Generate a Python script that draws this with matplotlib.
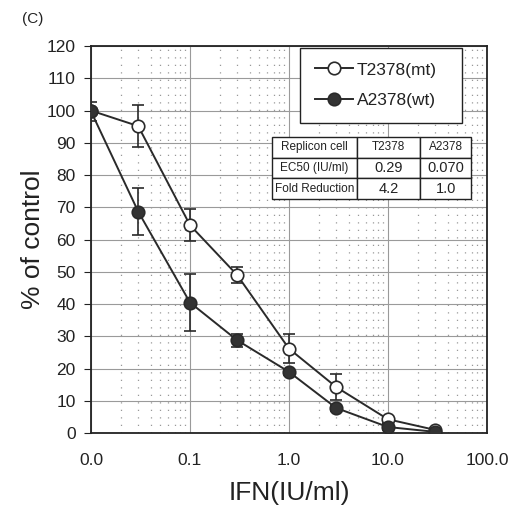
import matplotlib
matplotlib.use("Agg")
import matplotlib.pyplot as plt
from matplotlib.lines import Line2D
from matplotlib.ticker import FixedLocator, FixedFormatter, LogLocator, NullFormatter

plt.rcParams['font.family'] = ['Liberation Sans', 'DejaVu Sans']

# Data
ifn = [0.01, 0.03, 0.1, 0.3, 1.0, 3.0, 10.0, 30.0]
t2378_mean = [100.0, 95.2, 64.5, 49.0, 26.2, 14.3, 4.3, 1.0]
t2378_err = [0.0, 6.4, 5.0, 2.6, 4.5, 4.0, 1.0, 0.5]
a2378_mean = [99.8, 68.7, 40.5, 28.8, 19.0, 7.8, 1.9, 0.4]
a2378_err = [3.0, 7.4, 8.8, 2.0, 1.0, 1.0, 0.8, 0.5]

xtick_vals = [0.01, 0.1, 1, 10, 100]
xtick_labels = ['0.0', '0.1', '1.0', '10.0', '100.0']
ytick_vals = list(range(0, 121, 10))

table_rows = [['Replicon cell', 'T2378', 'A2378'],
              ['EC50 (IU/ml)', '0.29', '0.070'],
              ['Fold Reduction', '4.2', '1.0']]

fig = plt.figure(figsize=(5.11, 5.12), dpi=100)
ax = fig.add_axes([0.178, 0.154, 0.775, 0.756])

ax.set_xscale('log')
ax.set_xlim(0.01, 100)
ax.set_ylim(0, 120)

ax.xaxis.set_major_locator(FixedLocator(xtick_vals))
ax.xaxis.set_major_formatter(FixedFormatter(xtick_labels))
ax.xaxis.set_minor_locator(LogLocator(base=10, subs=range(2, 10)))
ax.xaxis.set_minor_formatter(NullFormatter())
ax.set_yticks(ytick_vals)
ax.grid(True, which='major', axis='both', color='#9a9a9a', linewidth=0.8)
ax.grid(True, which='minor', axis='x', color='#999999', linewidth=0.9, linestyle=(0, (1, 5)))
ax.set_axisbelow(True)

lc = '#2a2a2a'
ax.errorbar(ifn, t2378_mean, yerr=t2378_err, color=lc, linewidth=1.4,
            marker='o', markersize=9, markerfacecolor='white', markeredgecolor=lc,
            markeredgewidth=1.2, capsize=4, elinewidth=1.2, capthick=1.2, zorder=4)
ax.errorbar(ifn, a2378_mean, yerr=a2378_err, color=lc, linewidth=1.4,
            marker='o', markersize=9, markerfacecolor='#333333', markeredgecolor=lc,
            markeredgewidth=1.2, capsize=4, elinewidth=1.2, capthick=1.2, zorder=5)

for s in ax.spines.values():
    s.set_linewidth(1.3)
    s.set_color('#222222')

ax.tick_params(axis='y', which='major', direction='out', length=5, labelsize=12.5, colors='#222222', pad=6)
ax.tick_params(axis='x', which='both', length=0, labelsize=12.5, colors='#222222', pad=14)

ax.set_xlabel('IFN(IU/ml)', fontsize=19, color='#222222', labelpad=10)
ax.set_ylabel('% of control', fontsize=19, color='#222222', labelpad=1)

fig.text(0.043, 0.962, '(C)', fontsize=11, color='#222222', ha='left', va='center')

handles = [Line2D([], [], color=lc, linewidth=1.4, marker='o', markersize=9,
                  markerfacecolor='white', markeredgecolor=lc, markeredgewidth=1.2),
           Line2D([], [], color=lc, linewidth=1.4, marker='o', markersize=9,
                  markerfacecolor='#333333', markeredgecolor=lc, markeredgewidth=1.2)]
leg = ax.legend(handles, ['T2378(mt)', 'A2378(wt)'], loc='upper left',
                bbox_to_anchor=(0.528, 0.806, 0.41, 0.19), mode='expand',
                fancybox=False, edgecolor='#222222', framealpha=1, fontsize=12.5,
                handlelength=2.2, handletextpad=0.2, borderpad=0.85, labelspacing=0.9,
                borderaxespad=0)
leg.get_frame().set_linewidth(1.0)
for t in leg.get_texts():
    t.set_color('#222222')

tbl = ax.table(cellText=table_rows, cellLoc='center',
               colWidths=[85, 63, 51], bbox=[0.457, 0.605, 0.503, 0.16])
tbl.auto_set_font_size(False)
for (r, c), cell in tbl.get_celld().items():
    cell.set_linewidth(1.0)
    cell.set_edgecolor('#222222')
    cell.set_facecolor('white')
    cell.PAD = 0.04
    if c == 0 or r == 0:
        cell.get_text().set_fontsize(8.5)
    else:
        cell.get_text().set_fontsize(10.5)
    cell.get_text().set_color('#222222')
tbl.set_zorder(6)

fig.savefig('out.png', dpi=100)
